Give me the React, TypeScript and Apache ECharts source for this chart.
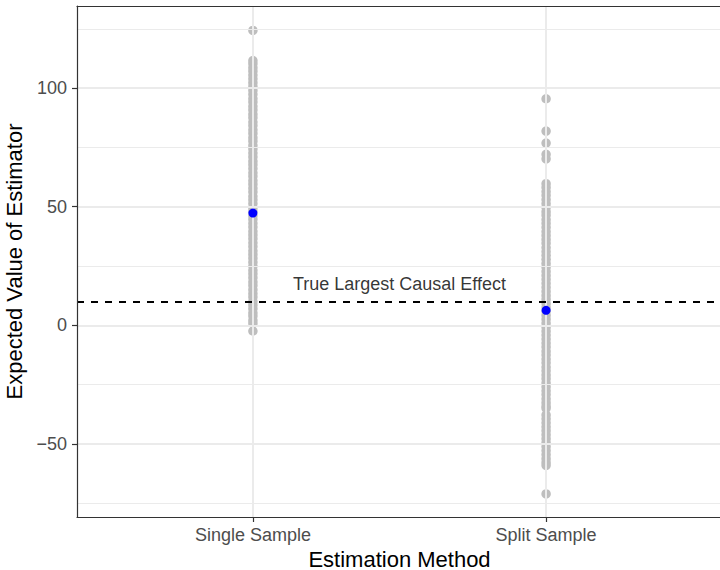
import React, { useEffect, useRef } from "react";
import * as echarts from "echarts";

const categories = ["Single Sample", "Split Sample"];

const singleSampleValues = [
  -2.4, 0.8, 2.1, 3.9, 5.2, 7.0, 8.6, 10.1, 11.9, 13.4, 15.0, 16.8, 18.3, 20.1,
  21.7, 23.2, 25.0, 26.6, 28.3, 29.9, 31.4, 33.2, 34.8, 36.5, 38.1, 39.6, 41.4,
  43.0, 44.7, 46.2, 48.0, 49.5, 51.3, 52.9, 54.4, 56.2, 57.8, 59.5, 61.0, 62.8,
  64.3, 66.1, 67.7, 69.2, 71.0, 72.6, 74.3, 75.8, 77.6, 79.1, 80.9, 82.4, 84.2,
  85.7, 87.5, 89.0, 90.8, 92.3, 94.1, 95.6, 97.4, 99.0, 100.7, 102.3, 103.9,
  105.5, 107.1, 108.6, 110.3, 111.6, 124.3,
];

const splitSampleValues = [
  95.5, 81.9, 76.8, 72.1, 70.2, 59.7, 58.1, 56.4, 54.8, 53.0, 51.3, 49.7, 47.9,
  46.4, 44.6, 43.0, 41.3, 39.5, 37.9, 36.2, 34.6, 32.8, 31.1, 29.5, 27.8, 26.1,
  24.5, 22.7, 21.0, 19.4, 17.7, 16.0, 14.3, 12.6, 11.0, 9.2, 7.6, 5.9, 4.2, 2.6,
  0.9, -0.8, -2.5, -4.1, -5.8, -7.5, -9.1, -10.9, -12.5, -14.2, -15.8, -17.6,
  -19.2, -20.9, -22.5, -24.3, -25.9, -27.6, -29.2, -31.0, -32.6, -34.1, -35.0,
  -37.8, -39.4, -41.1, -42.8, -44.4, -46.1, -47.8, -49.5, -51.1, -52.8, -54.5,
  -56.2, -57.8, -59.0, -71.1,
];

const meanValues = [47.3, 6.3];
const trueEffect = 10;
const annotationText = "True Largest Causal Effect";
const annotationPos = [1.5, 17.6];

const yMajorTicks = [-50, 0, 50, 100];
const yMinorTicks = [-75, -25, 25, 75, 125];
const xTicks = [1, 2];
const yRange = [-80.8, 134.6];
const xRange = [0.4, 2.6];

const FONT = "'Liberation Sans', Arial, Helvetica, sans-serif";

export default function App() {
  const ref = useRef<HTMLDivElement>(null);

  useEffect(() => {
    const chart = echarts.init(ref.current as HTMLDivElement, null, {
      renderer: "svg",
    });

    const grayPoints = [
      ...singleSampleValues.map((v) => [1, v]),
      ...splitSampleValues.map((v) => [2, v]),
    ];
    const bluePoints = meanValues.map((v, i) => [i + 1, v]);

    const gridColor = "#EBEBEB";
    const borderLine = {
      show: true,
      onZero: false,
      lineStyle: { color: "#333333", width: 1.2 },
    };

    chart.setOption({
      animation: false,
      backgroundColor: "#ffffff",
      textStyle: { fontFamily: FONT },
      grid: {
        left: 77,
        top: 6,
        width: 645,
        height: 511,
        show: false,
        containLabel: false,
        outerBoundsMode: "none",
      },
      xAxis: [
        {
          type: "value",
          position: "bottom",
          min: xRange[0],
          max: xRange[1],
          z: 10,
          axisLine: borderLine,
          splitLine: { show: false },
          axisTick: {
            show: true,
            length: 5,
            customValues: xTicks,
            lineStyle: { color: "#333333", width: 1.2 },
          },
          axisLabel: {
            customValues: xTicks,
            formatter: (v: number) => categories[Math.round(v) - 1] ?? "",
            fontSize: 18,
            color: "#4D4D4D",
            margin: 9,
            fontFamily: FONT,
          },
          name: "Estimation Method",
          nameLocation: "middle",
          nameGap: 27.5,
          nameTextStyle: {
            fontSize: 22,
            lineHeight: 22,
            color: "#000000",
            fontFamily: FONT,
          },
        },
        {
          type: "value",
          position: "top",
          min: xRange[0],
          max: xRange[1],
          z: 10,
          axisLine: borderLine,
          splitLine: { show: false },
          axisTick: { show: false },
          axisLabel: { show: false },
        },
      ],
      yAxis: {
        type: "value",
        min: yRange[0],
        max: yRange[1],
        z: 10,
        axisLine: borderLine,
        splitLine: { show: false },
        axisTick: {
          show: true,
          length: 5,
          customValues: yMajorTicks,
          lineStyle: { color: "#333333", width: 1.2 },
        },
        axisLabel: {
          customValues: yMajorTicks,
          formatter: (v: number) =>
            v < 0 ? "\u2212" + Math.abs(v) : String(v),
          fontSize: 18,
          color: "#4D4D4D",
          margin: 10,
          fontFamily: FONT,
        },
        name: "Expected Value of Estimator",
        nameLocation: "middle",
        nameGap: 48,
        nameRotate: 90,
        nameTextStyle: { fontSize: 22, color: "#000000", fontFamily: FONT },
      },
      series: [
        {
          type: "scatter",
          data: [],
          z: 1,
          silent: true,
          markLine: {
            silent: true,
            symbol: "none",
            label: { show: false },
            animation: false,
            data: [
              ...yMinorTicks.map((v) => ({
                yAxis: v,
                lineStyle: { color: gridColor, width: 1, type: "solid" },
              })),
              ...yMajorTicks.map((v) => ({
                yAxis: v,
                lineStyle: { color: gridColor, width: 2, type: "solid" },
              })),
              ...xTicks.map((v) => ({
                xAxis: v,
                lineStyle: { color: gridColor, width: 2, type: "solid" },
              })),
            ],
          },
        },
        {
          type: "scatter",
          data: grayPoints,
          z: 3,
          symbol: "circle",
          symbolSize: 9.5,
          itemStyle: { color: "#BEBEBE", opacity: 1 },
          silent: true,
        },
        {
          type: "scatter",
          data: [],
          z: 4,
          silent: true,
          markLine: {
            silent: true,
            symbol: "none",
            label: { show: false },
            animation: false,
            data: [
              {
                yAxis: trueEffect,
                lineStyle: { color: "#000000", width: 2, type: [7, 7] },
              },
            ],
          },
        },
        {
          type: "scatter",
          data: bluePoints,
          z: 5,
          symbol: "circle",
          symbolSize: 9,
          itemStyle: { color: "#0000FF", opacity: 1 },
          silent: true,
        },
        {
          type: "scatter",
          data: [annotationPos],
          z: 6,
          symbolSize: 1,
          itemStyle: { color: "transparent" },
          silent: true,
          label: {
            show: true,
            position: "inside",
            formatter: annotationText,
            fontSize: 18,
            color: "#000000",
            fontFamily: FONT,
          },
        },
      ],
    });

    return () => chart.dispose();
  }, []);

  return (
    <div
      ref={ref}
      style={{ position: "fixed", left: 0, top: 0, width: 720, height: 570 }}
    />
  );
}
